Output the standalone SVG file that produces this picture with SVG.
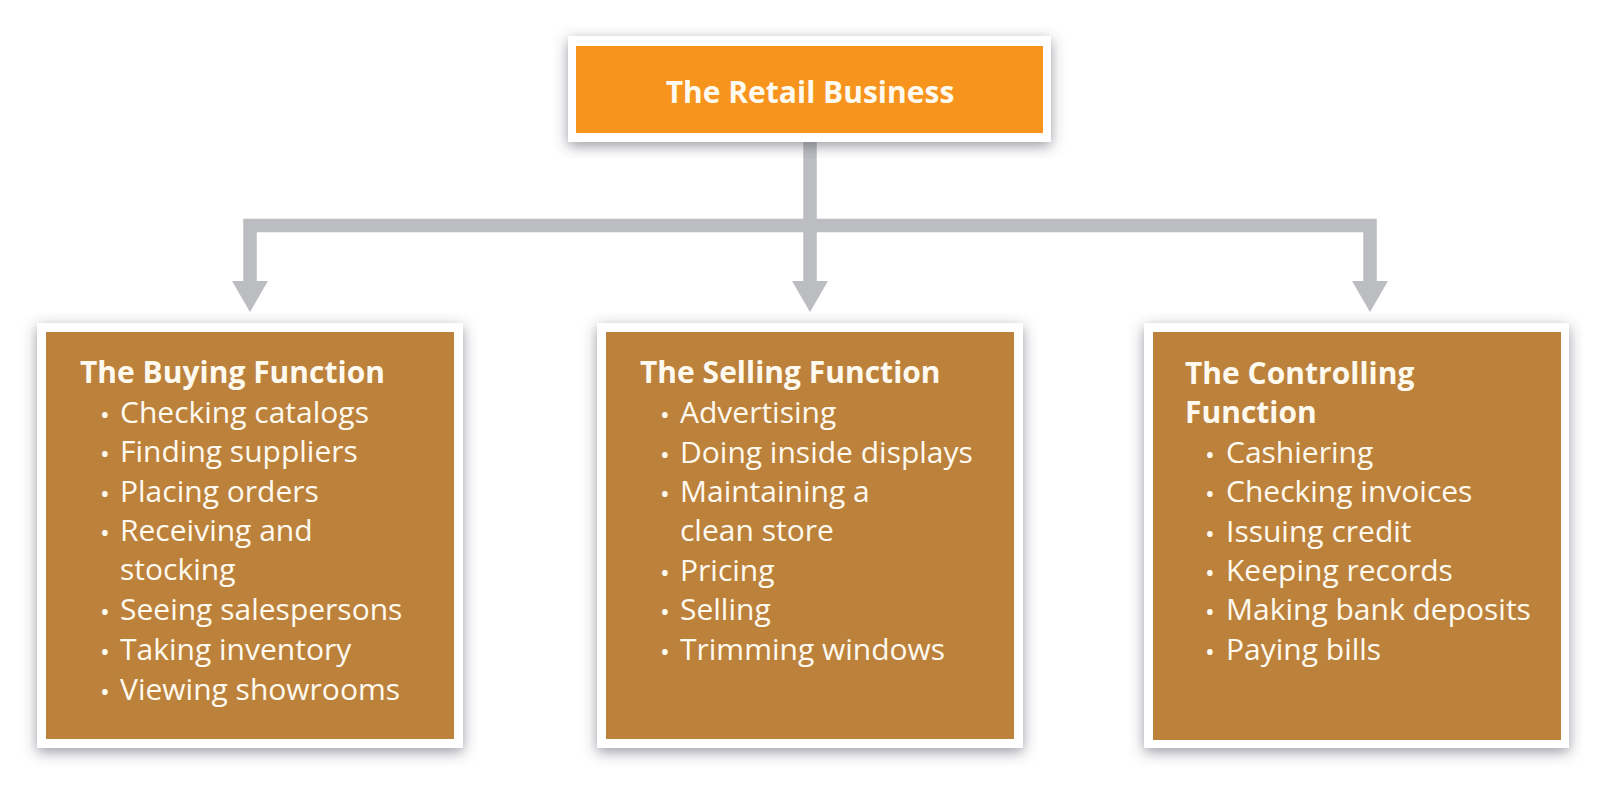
<svg xmlns="http://www.w3.org/2000/svg" width="1607" height="787" viewBox="0 0 1607 787">
<style>
.frame{fill:#ffffff;filter:url(#sh)}
.orange{fill:#F7941D}
.brown{fill:#BC823C}
.t{font-family:"Open Sans","Liberation Sans",sans-serif;fill:#FFFAF0}
.b{font-weight:bold;font-size:30px}
.i{font-size:30px}
.bul{font-size:26px}
.conn{fill:none;stroke:#BCBDC0;stroke-width:13.5;stroke-linejoin:miter}
</style>
<defs>
<filter id="sh" x="-10%" y="-10%" width="120%" height="125%">
<feDropShadow dx="0" dy="4" stdDeviation="7" flood-color="#4a4a55" flood-opacity="0.55"/>
</filter>
<marker id="ah" markerUnits="userSpaceOnUse" markerWidth="32" markerHeight="36" refX="0" refY="18" orient="auto">
<path d="M0,0 L31,18 L0,36 Z" fill="#BCBDC0"/>
</marker>
</defs>
<rect width="1607" height="787" fill="#ffffff"/>
<g id="connectors">
<path class="conn" d="M810,142 V281" marker-end="url(#ah)"/>
<path class="conn" d="M816,225.5 H250 V281" marker-end="url(#ah)"/>
<path class="conn" d="M804,225.5 H1370 V281" marker-end="url(#ah)"/>
</g>
<g id="retail-business">
<rect class="frame" x="568" y="36" width="483" height="106"/>
<rect class="orange" x="576" y="46" width="467" height="87"/>
<text class="t b" x="810" y="103" text-anchor="middle">The Retail Business</text>
</g>
<g id="buying-function">
<rect class="frame" x="37" y="323" width="426" height="425"/>
<rect class="brown" x="46" y="332" width="408" height="407"/>
<text class="t b" x="80" y="383">The Buying Function</text>
<text class="t"><tspan class="bul" x="100" y="424">•</tspan><tspan class="i" x="120" y="423">Checking catalogs</tspan></text>
<text class="t"><tspan class="bul" x="100" y="463">•</tspan><tspan class="i" x="120" y="462">Finding suppliers</tspan></text>
<text class="t"><tspan class="bul" x="100" y="503">•</tspan><tspan class="i" x="120" y="502">Placing orders</tspan></text>
<text class="t"><tspan class="bul" x="100" y="542">•</tspan><tspan class="i" x="120" y="541">Receiving and</tspan></text>
<text class="t i" x="120" y="580">stocking</text>
<text class="t"><tspan class="bul" x="100" y="621">•</tspan><tspan class="i" x="120" y="620">Seeing salespersons</tspan></text>
<text class="t"><tspan class="bul" x="100" y="661">•</tspan><tspan class="i" x="120" y="660">Taking inventory</tspan></text>
<text class="t"><tspan class="bul" x="100" y="701">•</tspan><tspan class="i" x="120" y="700">Viewing showrooms</tspan></text>
</g>
<g id="selling-function">
<rect class="frame" x="597" y="323" width="426" height="425"/>
<rect class="brown" x="606" y="332" width="408" height="407"/>
<text class="t b" x="640" y="383">The Selling Function</text>
<text class="t"><tspan class="bul" x="660" y="424">•</tspan><tspan class="i" x="680" y="423">Advertising</tspan></text>
<text class="t"><tspan class="bul" x="660" y="464">•</tspan><tspan class="i" x="680" y="463">Doing inside displays</tspan></text>
<text class="t"><tspan class="bul" x="660" y="503">•</tspan><tspan class="i" x="680" y="502">Maintaining a</tspan></text>
<text class="t i" x="680" y="541">clean store</text>
<text class="t"><tspan class="bul" x="660" y="582">•</tspan><tspan class="i" x="680" y="581">Pricing</tspan></text>
<text class="t"><tspan class="bul" x="660" y="621">•</tspan><tspan class="i" x="680" y="620">Selling</tspan></text>
<text class="t"><tspan class="bul" x="660" y="661">•</tspan><tspan class="i" x="680" y="660">Trimming windows</tspan></text>
</g>
<g id="controlling-function">
<rect class="frame" x="1144" y="323" width="425" height="425"/>
<rect class="brown" x="1153" y="332" width="408" height="408"/>
<text class="t b" x="1185" y="384">The Controlling</text>
<text class="t b" x="1185" y="423">Function</text>
<text class="t"><tspan class="bul" x="1205" y="464">•</tspan><tspan class="i" x="1226" y="463">Cashiering</tspan></text>
<text class="t"><tspan class="bul" x="1205" y="503">•</tspan><tspan class="i" x="1226" y="502">Checking invoices</tspan></text>
<text class="t"><tspan class="bul" x="1205" y="543">•</tspan><tspan class="i" x="1226" y="542">Issuing credit</tspan></text>
<text class="t"><tspan class="bul" x="1205" y="582">•</tspan><tspan class="i" x="1226" y="581">Keeping records</tspan></text>
<text class="t"><tspan class="bul" x="1205" y="621">•</tspan><tspan class="i" x="1226" y="620">Making bank deposits</tspan></text>
<text class="t"><tspan class="bul" x="1205" y="661">•</tspan><tspan class="i" x="1226" y="660">Paying bills</tspan></text>
</g>
</svg>
